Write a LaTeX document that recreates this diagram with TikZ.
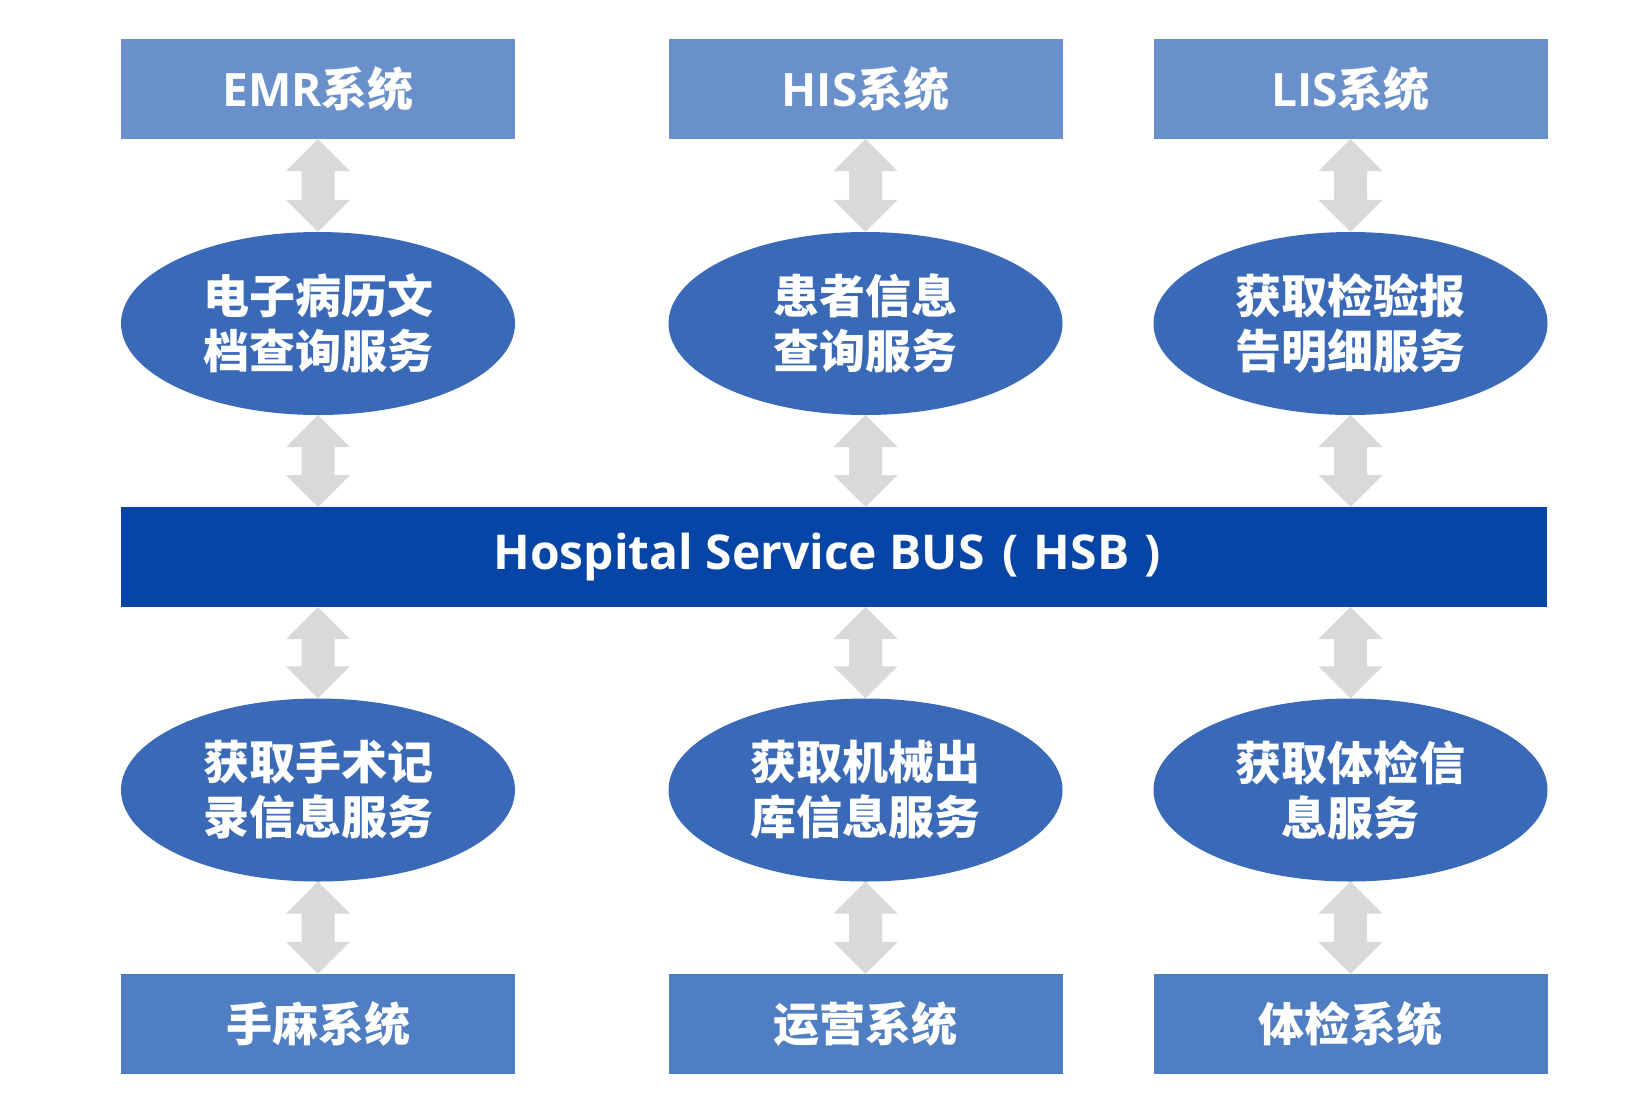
\documentclass[tikz,border=0pt]{standalone}
\usepackage{fontspec}
\setmainfont{Open Sans}
\newfontfamily\cjk{Noto Sans CJK SC}
\usetikzlibrary{shapes.geometric,calc}
\definecolor{topbox}{HTML}{6990CA}
\definecolor{botbox}{HTML}{4F7EC2}
\definecolor{ellfill}{HTML}{3A6AB7}
\definecolor{busfill}{HTML}{0645A6}
\definecolor{arrowgray}{HTML}{D9D9D9}
\newcommand\zh[1]{{\cjk\bfseries #1}}
\newcommand\dblarrow[2]{%
  \fill[arrowgray] (#1) -- ++(32,32) -- ++(-15.5,0) -- ($(#2)+(16.5,-32)$) -- ++(15.5,0) -- (#2)
    -- ++(-32,-32) -- ++(15.5,0) -- ($(#1)+(-16.5,32)$) -- ++(-15.5,0) -- cycle;}
\tikzset{
  sysbox/.style={rectangle, minimum width=394pt, minimum height=100pt, inner sep=0pt,
    text=white, font=\fontsize{46}{55}\selectfont\bfseries},
  svc/.style={ellipse, fill=ellfill, minimum width=394pt, minimum height=183pt, inner sep=0pt,
    text=white, align=center, font=\fontsize{46}{55}\selectfont\cjk\bfseries},
  bus/.style={rectangle, fill=busfill, minimum width=1426pt, minimum height=100pt, inner sep=0pt,
    text=white, font=\fontsize{48}{55}\selectfont\bfseries}
}
\begin{document}
\begin{tikzpicture}[x=1pt,y=-1pt]
\fill[white] (0,0) rectangle (1648,1109);
\useasboundingbox (0,0) rectangle (1648,1109);
% top systems
\node[sysbox, fill=topbox] (emr) at (318,89) {EMR\zh{系统}};
\node[sysbox, fill=topbox] (his) at (865.5,89) {HIS\zh{系统}};
\node[sysbox, fill=topbox] (lis) at (1350.5,89) {LIS\zh{系统}};
% top services
\node[svc] (s1) at (318,323.5) {电子病历文\\档查询服务};
\node[svc] (s2) at (865.5,323.5) {患者信息\\查询服务};
\node[svc] (s3) at (1350.5,323.5) {获取检验报\\告明细服务};
% bus
\node[bus] (hsb) at (834,557) {Hospital Service BUS\hspace{18pt}(\hspace{15pt}HSB\hspace{15pt})\kern14pt};
\coordinate (b1t) at (318,507); \coordinate (b2t) at (865.5,507); \coordinate (b3t) at (1350.5,507);
\coordinate (b1b) at (318,607); \coordinate (b2b) at (865.5,607); \coordinate (b3b) at (1350.5,607);
% bottom services
\node[svc] (s4) at (318,790) {获取手术记\\录信息服务};
\node[svc] (s5) at (865.5,790) {获取机械出\\库信息服务};
\node[svc] (s6) at (1350.5,790) {获取体检信\\息服务};
% bottom systems
\node[sysbox, fill=botbox] (ss) at (318,1024) {\zh{手麻系统}};
\node[sysbox, fill=botbox] (yy) at (865.5,1024) {\zh{运营系统}};
\node[sysbox, fill=botbox] (tj) at (1350.5,1024) {\zh{体检系统}};
% arrows
\dblarrow{emr.south}{s1.north}
\dblarrow{his.south}{s2.north}
\dblarrow{lis.south}{s3.north}
\dblarrow{s1.south}{b1t}
\dblarrow{s2.south}{b2t}
\dblarrow{s3.south}{b3t}
\dblarrow{b1b}{s4.north}
\dblarrow{b2b}{s5.north}
\dblarrow{b3b}{s6.north}
\dblarrow{s4.south}{ss.north}
\dblarrow{s5.south}{yy.north}
\dblarrow{s6.south}{tj.north}
\end{tikzpicture}
\end{document}
